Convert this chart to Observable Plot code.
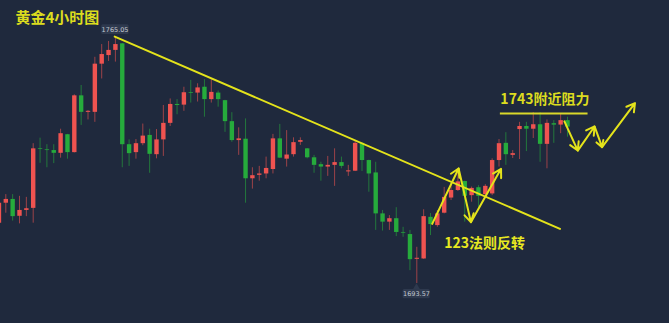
<!DOCTYPE html>
<html>
<head>
<meta charset="utf-8">
<script src="https://cdn.jsdelivr.net/npm/d3@7"></script>
<script src="https://cdn.jsdelivr.net/npm/@observablehq/plot@0.6"></script>
<style>
  html, body { margin: 0; padding: 0; background: #1f293d; }
  #chart svg { display: block; }
</style>
</head>
<body>
<div id="chart"></div>
<script>
// ---- data: XAUUSD 4H candles (index order) ----
const opens = [1711.1,1716.9,1718.0,1713.1,1714.8,1715.4,1732.7,1732.4,1732.2,1731.4,1736.8,1731.6,1748.1,1743.3,1743.3,1757.3,1759.8,1761.3,1763.2,1733.9,1731.6,1734.2,1736.6,1731.0,1735.3,1740.1,1745.6,1745.4,1749.0,1748.9,1750.6,1747.0,1748.9,1746.7,1740.6,1735.1,1735.5,1724.0,1725.0,1725.4,1726.7,1735.6,1729.7,1731.0,1734.6,1732.7,1730.1,1728.1,1727.4,1727.9,1728.7,1726.0,1726.2,1734.3,1729.3,1725.7,1713.8,1711.4,1712.4,1708.4,1707.8,1700.6,1700.7,1712.8,1710.4,1714.0,1718.4,1720.6,1723.2,1719.1,1721.4,1719.4,1719.6,1729.3,1734.3,1730.8,1738.3,1739.2,1738.4,1739.7,1734.0,1740.0,1739.6,1740.9];
const highs = [1717.7,1719.4,1719.4,1718.9,1718.6,1734.2,1735.8,1733.9,1733.9,1738.4,1736.9,1748.4,1751.1,1743.8,1759.3,1763.0,1763.9,1765.05,1763.3,1735.3,1735.4,1739.9,1738.4,1738.3,1745.3,1747.2,1747.0,1750.6,1752.6,1751.6,1752.8,1752.8,1749.5,1746.8,1743.2,1738.8,1741.4,1727.2,1727.6,1730.3,1736.9,1739.8,1738.0,1735.9,1735.9,1732.8,1730.8,1728.8,1730.5,1732.7,1730.3,1727.9,1735.1,1734.4,1729.4,1728.8,1714.8,1713.3,1715.6,1709.9,1709.0,1704.1,1715.0,1713.9,1714.8,1721.5,1722.5,1726.9,1723.3,1721.6,1722.0,1722.3,1729.8,1735.4,1737.4,1732.2,1740.4,1740.4,1743.2,1743.2,1741.1,1740.9,1742.9,1741.9];
const lows = [1710.4,1714.0,1711.7,1710.9,1713.0,1711.1,1728.5,1727.2,1728.4,1730.0,1729.7,1731.5,1739.5,1741.1,1740.4,1753.0,1758.1,1757.9,1727.2,1727.6,1729.7,1733.6,1725.6,1729.8,1730.5,1739.2,1742.6,1743.6,1746.0,1746.3,1741.9,1746.0,1744.8,1737.5,1734.6,1730.8,1716.9,1721.0,1723.3,1724.0,1725.4,1729.9,1727.4,1730.3,1733.7,1729.8,1725.6,1723.3,1724.7,1721.8,1726.9,1724.7,1726.1,1726.1,1720.1,1709.0,1708.8,1709.0,1707.2,1707.0,1697.3,1693.57,1700.6,1707.5,1709.9,1713.8,1717.7,1720.3,1711.4,1717.2,1715.7,1718.6,1719.1,1727.4,1727.9,1729.9,1729.6,1731.9,1735.7,1728.8,1726.9,1734.3,1737.1,1736.1];
const closes = [1716.9,1718.0,1713.0,1714.8,1715.3,1732.7,1732.5,1732.2,1731.4,1737.1,1731.6,1748.1,1743.3,1743.6,1757.3,1760.1,1761.3,1763.0,1733.9,1731.3,1734.2,1736.4,1731.1,1735.3,1740.1,1745.6,1745.3,1749.0,1748.8,1750.4,1747.0,1749.1,1747.0,1740.6,1735.1,1735.6,1724.0,1724.9,1725.4,1727.0,1735.6,1730.0,1730.9,1734.5,1735.1,1730.1,1727.9,1727.4,1727.9,1728.7,1727.6,1726.3,1734.3,1729.3,1725.4,1713.8,1711.4,1712.4,1708.4,1708.2,1700.5,1700.9,1713.0,1710.7,1713.8,1718.6,1720.6,1723.1,1718.9,1721.2,1718.9,1721.8,1729.3,1734.2,1731.0,1731.3,1739.2,1738.4,1739.7,1734.0,1740.1,1739.6,1740.9,1739.0];

// ---- annotations (index, price) ----
const titleText = "黄金4小时图";
const resistanceLabel = "1743附近阻力";
const resistance = [{price: 1743, from: 73.2, to: 86.0}];
const patternLabel = [{text: "123法则反转", x: 65.0, price: 1705.05}];
const trendline = [{x: 16.9, price: 1765.3}, {x: 81.9, price: 1709.45}];
const zigzagLeft = [[63.25, 1710.9], [67.1, 1727.0], [68.9, 1711.4], [73.3, 1726.9]];
const zigzagRight = [[82.55, 1740.7], [84.5, 1732.2], [86.95, 1739.2], [88.05, 1733.2], [92.85, 1746.0]];
const priceTags = [
  {i: 17, price: 1765.05, label: "1765.05", side: "top"},
  {i: 61, price: 1693.57, label: "1693.57", side: "bottom"}
];

// ---- build tables ----
const candles = opens.map((o, i) => ({i, o, h: highs[i], l: lows[i], c: closes[i], up: closes[i] >= o}));
const segs = pts => pts.slice(1).map((p, k) => ({x1: pts[k][0], y1: pts[k][1], x2: p[0], y2: p[1]}));
const arrows = [...segs(zigzagLeft), ...segs(zigzagRight)];
const tagBoxes = priceTags.map(t => t.side === "top"
  ? {x1: t.i - 2.0, x2: t.i + 2.0, y1: t.price + 0.9, y2: t.price + 3.7, tx: t.i - 0.05, ty: t.price + 2.3, label: t.label}
  : {x1: t.i - 2.0, x2: t.i + 1.95, y1: t.price - 1.75, y2: t.price - 4.45, tx: t.i - 0.05, ty: t.price - 3.1, label: t.label, py: t.price - 1.1});

const RED = "#ef5350", GREEN = "#26ab3c", YEL = "#e4e31b";
const col = d => d.up ? RED : GREEN;
const CJK = "'Noto Sans CJK SC', 'Noto Sans', sans-serif";

const chart = Plot.plot({
  width: 669, height: 323,
  margin: 0,
  x: {domain: [0.226, 97.89], axis: null},
  y: {domain: [1681.95, 1775.80], axis: null},
  style: {background: "#1f293d", overflow: "visible"},
  marks: [
    Plot.ruleX(candles, {x: "i", y1: "l", y2: "h", stroke: col, strokeOpacity: 0.6, strokeWidth: 1}),
    Plot.ruleX(candles, {x: "i", y1: "o", y2: "c", stroke: col, strokeWidth: 4.4}),
    Plot.line(trendline, {x: "x", y: "price", stroke: YEL, strokeWidth: 2}),
    Plot.ruleY(resistance, {y: "price", x1: "from", x2: "to", stroke: "#d9d82a", strokeWidth: 2}),
    Plot.arrow(arrows, {x1: "x1", y1: "y1", x2: "x2", y2: "y2", stroke: YEL, strokeWidth: 2, headLength: 7}),
    Plot.rect(tagBoxes, {x1: "x1", x2: "x2", y1: "y1", y2: "y2", fill: "#2e394e", rx: 1.5}),
    Plot.dot(tagBoxes.filter(d => d.py), {x: "tx", y: "py", symbol: "triangle", r: 2.6, fill: "#2e394e"}),
    Plot.text(tagBoxes, {x: "tx", y: "ty", text: "label", fill: "#c3c8d1", fontSize: 6.5, fontFamily: "'DejaVu Sans', sans-serif"}),
    Plot.text([titleText], {frameAnchor: "top-left", dx: 15, dy: 11.5, fill: "#dcdc1e", fontSize: 15, fontWeight: "bold", fontFamily: CJK, lineAnchor: "top"}),
    Plot.text(resistance, {x: "from", y: "price", text: () => resistanceLabel, dy: -13.5, textAnchor: "start", fill: "#dcdc1e", fontSize: 14, fontWeight: "bold", fontFamily: CJK}),
    Plot.text(patternLabel, {x: "x", y: "price", text: "text", textAnchor: "start", fill: "#e8e820", fontSize: 14, fontWeight: "bold", fontFamily: CJK})
  ]
});
document.getElementById("chart").append(chart);
</script>
</body>
</html>
